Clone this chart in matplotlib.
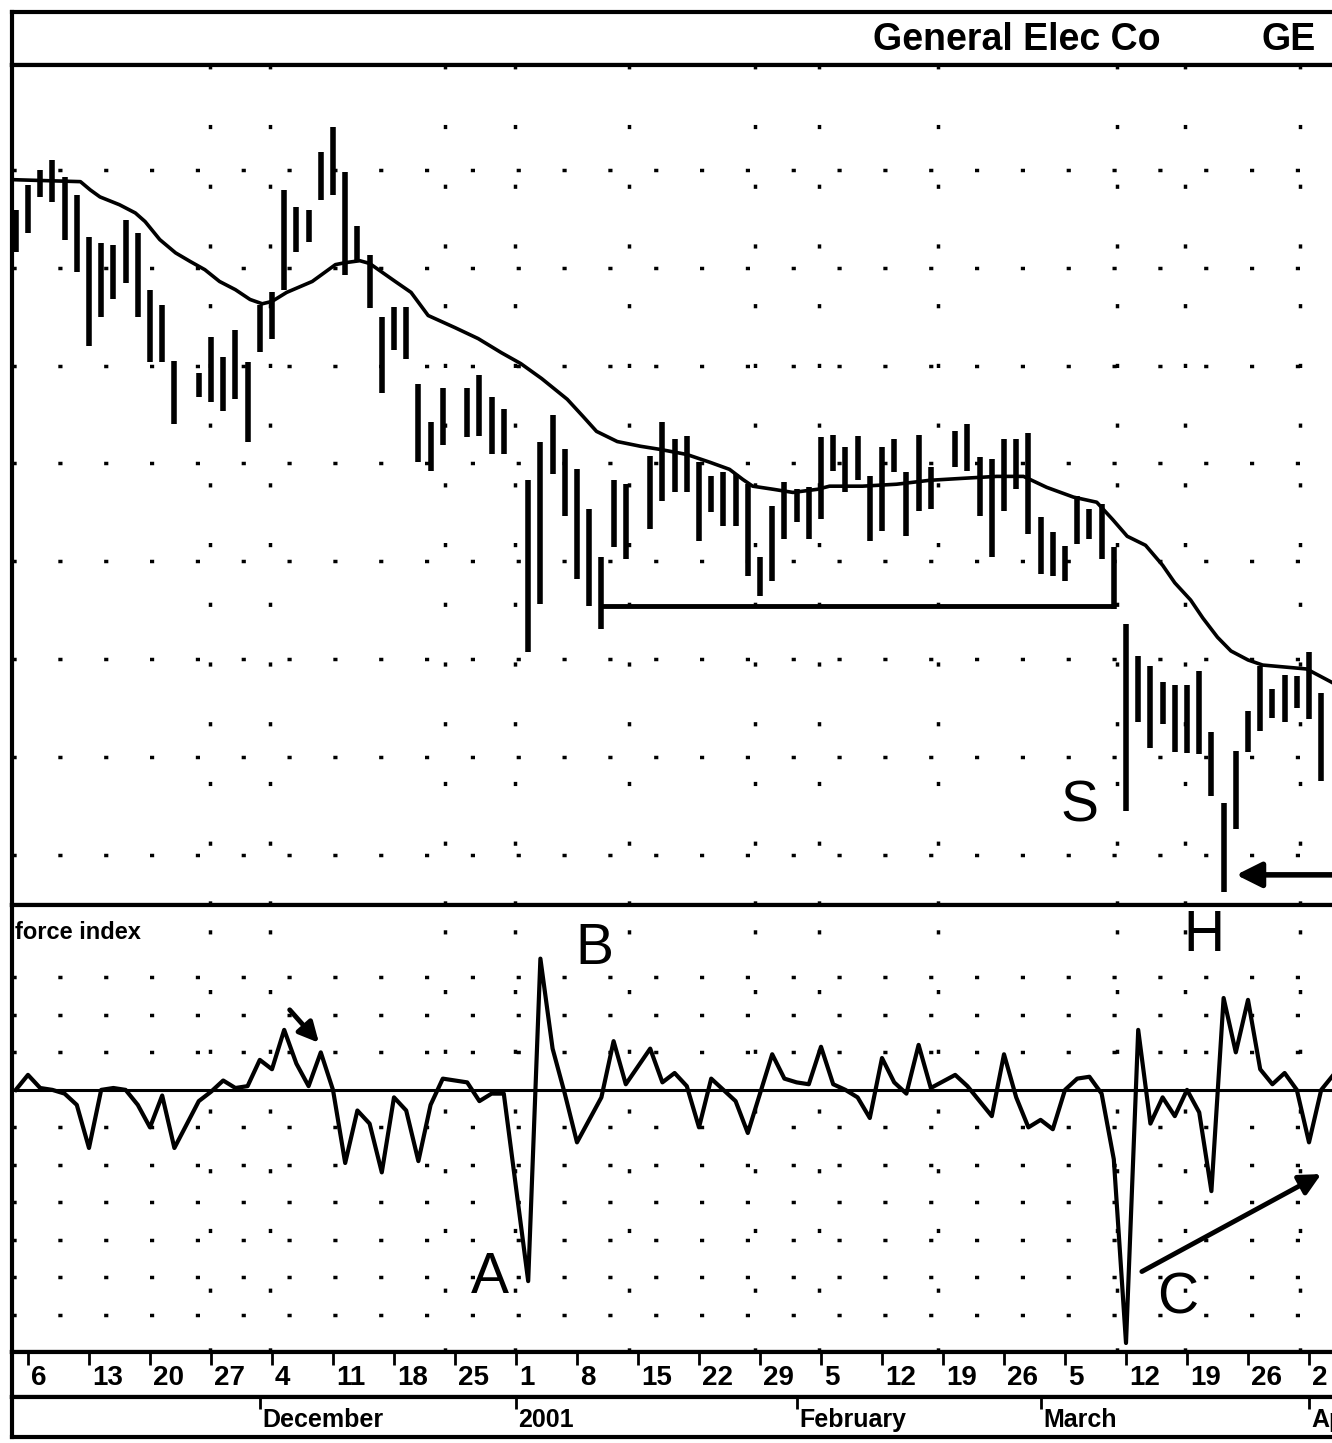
import matplotlib
matplotlib.use("Agg")
import matplotlib.pyplot as plt
from matplotlib import font_manager

# trading-day slots (weekdays), 0 = Mon Nov 6 2000; holidays keep an empty slot
holidays = [13, 35, 40, 50, 75]
days = [d for d in range(-1, 108) if d not in holidays]

highs = [56.48, 57.12, 57.50, 57.76, 57.32, 56.87, 55.79, 55.64, 55.59, 56.23,
         55.90, 54.44, 54.06, 52.61, 52.32, 53.24, 52.71, 53.42, 52.58, 54.06,
         54.39, 56.99, 56.56, 56.48, 57.96, 58.60, 57.45, 56.07, 55.33, 53.73,
         54.01, 54.01, 52.02, 51.07, 51.92, 51.94, 52.27, 51.69, 51.38, 49.59,
         50.54, 51.25, 50.36, 49.85, 48.83, 47.61, 49.59, 49.47, 50.18, 51.05,
         50.62, 50.69, 50.05, 49.67, 49.77, 49.72, 49.47, 47.61, 48.91, 49.52,
         49.34, 49.39, 50.67, 50.74, 50.41, 50.69, 49.67, 50.41, 50.62, 49.77,
         50.74, 49.90, 50.82, 51.00, 50.16, 50.11, 50.62, 50.62, 50.79, 48.63,
         48.24, 47.89, 49.16, 48.83, 48.96, 47.86, 45.90, 45.08, 44.82, 44.42,
         44.34, 44.34, 44.70, 43.14, 41.33, 42.66, 43.68, 44.82, 44.24, 44.59,
         44.57, 45.18, 44.14, 43.47]
lows = [55.41, 55.90, 56.81, 56.69, 55.72, 54.88, 52.99, 53.75, 54.19, 54.62,
        53.75, 52.58, 52.58, 51.00, 51.69, 51.56, 51.33, 51.64, 50.54, 52.86,
        53.17, 54.44, 55.41, 55.67, 56.74, 56.87, 54.82, 55.16, 53.98, 51.81,
        52.91, 52.66, 50.05, 49.80, 50.46, 50.67, 50.69, 50.23, 50.23, 45.18,
        46.41, 49.72, 48.65, 47.04, 46.36, 45.77, 47.86, 47.55, 48.32, 49.03,
        49.26, 49.26, 48.01, 48.75, 48.40, 48.40, 47.12, 46.61, 46.99, 48.06,
        48.50, 48.06, 48.57, 49.80, 49.26, 49.59, 48.01, 48.27, 49.77, 48.14,
        48.78, 48.83, 49.90, 49.80, 48.65, 47.61, 48.78, 49.34, 48.19, 47.17,
        47.12, 46.99, 47.94, 48.06, 47.55, 46.28, 41.13, 43.40, 42.73, 43.34,
        42.63, 42.61, 42.58, 41.51, 39.06, 40.67, 42.63, 43.17, 43.50, 43.40,
        43.75, 43.47, 41.89, 41.76]

force = [0.0, 0.4, 0.05, 0.0, -0.1, -0.4, -1.55, 0.0, 0.05, 0.0,
         -0.4, -1.0, -0.15, -1.55, -0.3, -0.05, 0.25, 0.05, 0.1, 0.8,
         0.55, 1.6, 0.7, 0.1, 1.0, 0.0, -1.95, -0.55, -0.9, -2.2,
         -0.2, -0.55, -1.9, -0.4, 0.3, 0.2, -0.3, -0.1, -0.1, -5.1,
         3.5, 1.1, -0.1, -1.4, -0.8, -0.2, 1.3, 0.15, 1.1, 0.2,
         0.45, 0.1, -1.0, 0.3, 0.0, -0.3, -1.15, -0.1, 0.95, 0.3,
         0.2, 0.15, 1.15, 0.15, 0.0, -0.2, -0.75, 0.85, 0.2, -0.1,
         1.2, 0.05, 0.4, 0.1, -0.3, -0.7, 0.95, -0.2, -1.0, -0.8,
         -1.05, 0.0, 0.3, 0.35, -0.1, -1.85, -6.75, 1.6, -0.9, -0.2,
         -0.7, 0.0, -0.6, -2.7, 2.45, 1.0, 2.4, 0.55, 0.15, 0.45,
         0.0, -1.4, 0.0, 0.4]

# moving average, read at points along the curve
ma_days = [-1.2, 4.3, 5.1, 5.9, 7.5, 8.8, 9.6, 10.8, 12.1, 13.3, 14.5, 15.7, 17.0,
           18.2, 19.2, 20.0, 21.2, 23.3, 25.2, 26.0, 27.2, 28.0, 30.1, 31.4, 32.8,
           35.0, 36.9, 38.8, 40.4, 42.1, 44.2, 45.5, 46.6, 48.3, 50.2, 51.8, 54.0,
           55.9, 57.5, 58.6, 59.4, 61.1, 62.7, 64.7, 65.7, 68.4, 71.2, 73.9, 76.6,
           79.4, 81.6, 83.5, 85.7, 87.6, 88.9, 90.1, 91.6, 93.0, 94.0, 95.3, 96.3,
           97.5, 98.6, 100.0, 101.2, 104.8, 106.8, 107.5]
ma_vals = [57.25, 57.20, 56.99, 56.81, 56.61, 56.40, 56.18, 55.72, 55.38, 55.16,
           54.95, 54.65, 54.44, 54.19, 54.08, 54.14, 54.37, 54.65, 55.08, 55.13,
           55.18, 55.11, 54.65, 54.37, 53.78, 53.47, 53.19, 52.83, 52.55, 52.17,
           51.64, 51.20, 50.82, 50.56, 50.44, 50.36, 50.23, 50.03, 49.85, 49.59,
           49.42, 49.34, 49.26, 49.34, 49.42, 49.42, 49.47, 49.57, 49.62, 49.67,
           49.67, 49.39, 49.14, 49.01, 48.57, 48.14, 47.91, 47.40, 46.95, 46.51,
           46.05, 45.56, 45.21, 44.98, 44.85, 44.75, 44.42, 44.30]

support_level = 46.36
support_from, support_to = 47, 89

week_days = list(range(0, 106, 5))
week_labels = ["6", "13", "20", "27", "4", "11", "18", "25", "1", "8", "15",
               "22", "29", "5", "12", "19", "26", "5", "12", "19", "26", "2"]
month_days = [19, 40, 63, 83, 105]
month_labels = ["December", "2001", "February", "March", "April"]

price_grid = [57.5, 55.0, 52.5, 50.0, 47.5, 45.0, 42.5, 40.0]
force_grid = [3, 2, 1, -1, -2, -3, -4, -5, -6]
grid_days = [14.9, 19.8, 34.2, 39.9, 49.3, 59.6, 64.8, 74.6, 89.3, 94.8, 104.3]

installed = {f.name for f in font_manager.fontManager.ttflist}
narrow = "Liberation Sans Narrow" if "Liberation Sans Narrow" in installed else "Liberation Sans"

W, H = 1332, 1443
fig = plt.figure(figsize=(W / 100, H / 100), dpi=100)
XL = (-1.31, 107.54)


def box(top, bottom):
    ax = fig.add_axes([12 / W, 1 - bottom / H, (1340 - 12) / W, (bottom - top) / H])
    ax.set_xlim(*XL)
    ax.set_xticks([])
    ax.set_yticks([])
    ax.spines["right"].set_visible(False)
    for s in ("left", "top", "bottom"):
        ax.spines[s].set_linewidth(3)
    return ax


ax_t = box(12, 65)
ax_p = box(65, 905)
ax_f = box(905, 1352)
ax_d = box(1352, 1397)
ax_m = box(1397, 1437)

hdots = (0, (1.2, 12))
vdots = (0, (1.2, 16))

# title band
ax_t.set_ylim(0, 1)
ax_t.text(69.3, 0.47, "General Elec Co", ha="left", va="center", fontsize=27,
          fontweight="bold", family=narrow)
ax_t.text(101.1, 0.47, "GE", ha="left", va="center", fontsize=27,
          fontweight="bold", family=narrow)

# price panel
ax_p.set_ylim(38.72, 60.18)
for lv in price_grid:
    ax_p.axhline(lv, color="black", lw=2.5, ls=hdots)
for gd in grid_days:
    ax_p.axvline(gd, color="black", lw=2.5, ls=vdots)
ax_p.vlines(days, lows, highs, color="black", lw=4)
ax_p.plot(ma_days, ma_vals, color="black", lw=2.6)
ax_p.hlines(support_level, support_from, support_to, color="black", lw=3.5)
ax_p.annotate("", xy=(98.8, 39.49), xytext=(107.6, 39.49),
              arrowprops=dict(arrowstyle="-|>", color="black", lw=4, mutation_scale=38),
              annotation_clip=False)
ax_p.text(86.2, 41.23, "S", ha="center", va="center", fontsize=41, family="Liberation Sans")

# force index panel
ax_f.set_ylim(-6.99, 4.93)
for lv in force_grid:
    ax_f.axhline(lv, color="black", lw=2.5, ls=hdots)
for gd in grid_days:
    ax_f.axvline(gd, color="black", lw=2.5, ls=vdots)
ax_f.axhline(0, color="black", lw=2.2)
ax_f.plot(days, force, color="black", lw=3)
ax_f.text(0.002, 0.965, "force index", transform=ax_f.transAxes, ha="left", va="top",
          fontsize=17, fontweight="bold", family=narrow)
ax_f.text(46.4, 3.76, "B", ha="center", va="center", fontsize=41, family="Liberation Sans")
ax_f.text(37.9, -5.01, "A", ha="center", va="center", fontsize=41, family="Liberation Sans")
ax_f.text(94.2, -5.55, "C", ha="center", va="center", fontsize=41, family="Liberation Sans")
ax_f.text(96.4, 4.1, "H", ha="center", va="center", fontsize=41, family="Liberation Sans")
ax_f.annotate("", xy=(24.0, 1.2), xytext=(21.3, 2.19),
              arrowprops=dict(arrowstyle="-|>", color="black", lw=3.5, mutation_scale=30))
ax_f.annotate("", xy=(106.2, -2.21), xytext=(91.1, -4.88),
              arrowprops=dict(arrowstyle="-|>", color="black", lw=3.5, mutation_scale=32))

# date bands
ax_d.set_ylim(0, 1)
ax_d.vlines(week_days, 0.72, 1.0, color="black", lw=2)
for d, lab in zip(week_days, week_labels):
    ax_d.text(d + 0.25, 0.42, lab, ha="left", va="center", fontsize=20,
              fontweight="bold", family=narrow)

ax_m.set_ylim(0, 1)
ax_m.vlines(month_days, 0.7, 1.0, color="black", lw=2)
for d, lab in zip(month_days, month_labels):
    ax_m.text(d + 0.2, 0.42, lab, ha="left", va="center", fontsize=18,
              fontweight="bold", family=narrow)

fig.savefig("out.png", dpi=100)
